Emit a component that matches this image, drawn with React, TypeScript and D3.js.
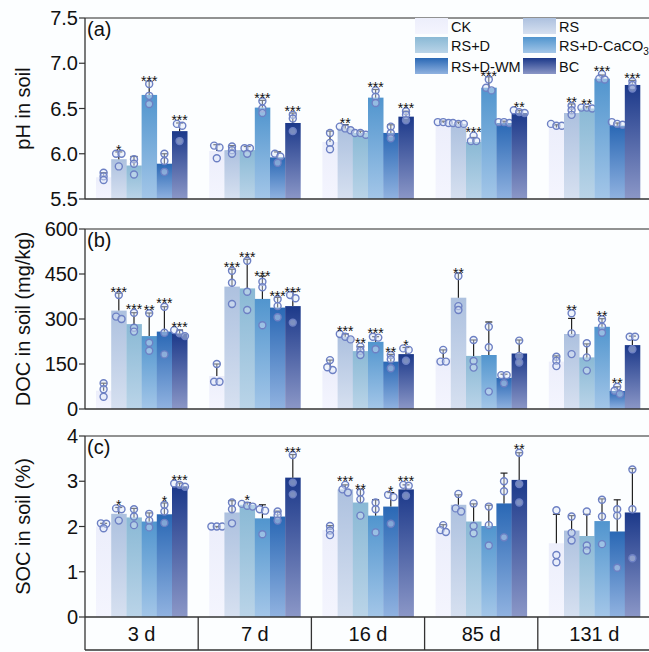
import React from 'react'
import * as d3 from 'd3'

const days = ['3 d', '7 d', '16 d', '85 d', '131 d']
const treatments = ['CK', 'RS', 'RS+D', 'RS+D-CaCO3', 'RS+D-WM', 'BC']

// bar gradient colours, top -> bottom
const colorTop = ['#eceefb', '#adc1df', '#8ab9d5', '#5195ce', '#2a68b5', '#1c398a']
const colorBottom = ['#f4f5fe', '#d6e0f0', '#bad4e8', '#a3c6e8', '#90b2e0', '#8b97c7']

// pH
const phMean = [
  [5.74, 5.94, 5.87, 6.65, 5.89, 6.25],
  [6.03, 6.04, 6.04, 6.51, 5.96, 6.34],
  [6.13, 6.28, 6.23, 6.62, 6.23, 6.41],
  [6.34, 6.33, 6.13, 6.73, 6.34, 6.45],
  [6.29, 6.45, 6.5, 6.83, 6.31, 6.76],
]
const phErr = [
  [0.05, 0.08, 0.1, 0.15, 0.11, 0.09],
  [0.07, 0.05, 0.04, 0.08, 0.06, 0.11],
  [0.12, 0.04, 0.02, 0.09, 0.09, 0.06],
  [0.02, 0.02, 0.05, 0.12, 0.02, 0.03],
  [0.03, 0.1, 0.02, 0.04, 0.03, 0.05],
]
const phPoints = [
  [[5.79, 5.75, 5.71], [6.0, 6.0, 5.86], [5.94, 5.89, 5.77], [6.77, 6.64, 6.55], [6.0, 5.92, 5.8], [6.33, 6.31, 6.14]],
  [[6.09, 6.07, 5.95], [6.08, 6.04, 6.0], [6.06, 6.06, 6.0], [6.58, 6.5, 6.45], [6.0, 5.97, 5.9], [6.43, 6.39, 6.25]],
  [[6.23, 6.12, 6.05], [6.3, 6.28, 6.26], [6.23, 6.21, 6.23], [6.7, 6.63, 6.56], [6.3, 6.23, 6.17], [6.47, 6.43, 6.37]],
  [[6.35, 6.35, 6.34], [6.34, 6.33, 6.33], [6.2, 6.14, 6.14], [6.82, 6.73, 6.7], [6.35, 6.35, 6.34], [6.48, 6.46, 6.45]],
  [[6.33, 6.31, 6.31], [6.53, 6.48, 6.43], [6.51, 6.51, 6.5], [6.88, 6.83, 6.82], [6.35, 6.33, 6.32], [6.8, 6.76, 6.72]],
]
const phStars = [
  ['', '*', '', '***', '', '***'],
  ['', '', '', '***', '', '***'],
  ['', '**', '', '***', '', '***'],
  ['', '', '***', '***', '', '**'],
  ['', '**', '**', '***', '', '***'],
]

// DOC
const docMean = [
  [61, 328, 283, 243, 258, 252],
  [110, 408, 402, 367, 338, 343],
  [128, 241, 193, 224, 158, 183],
  [169, 371, 177, 180, 104, 185],
  [158, 250, 172, 274, 60, 213],
]
const docErr = [
  [25, 58, 38, 77, 83, 11],
  [40, 58, 97, 76, 34, 48],
  [35, 9, 15, 17, 24, 22],
  [28, 81, 53, 110, 12, 45],
  [19, 52, 45, 27, 14, 30],
]
const docPoints = [
  [[86, 66, 41], [380, 308, 300], [321, 271, 258], [319, 221, 194], [341, 254, 182], [263, 252, 243]],
  [[150, 91, 91], [461, 421, 350], [494, 391, 330], [424, 406, 279], [366, 343, 306], [380, 369, 288]],
  [[163, 130, 139], [250, 241, 232], [208, 194, 180], [241, 238, 199], [180, 166, 136], [202, 197, 161]],
  [[197, 158, 158], [443, 343, 330], [230, 160, 138], [274, 206, 58], [113, 113, 86], [228, 177, 155]],
  [[174, 161, 143], [319, 252, 183], [219, 172, 128], [299, 274, 254], [74, 61, 50], [241, 241, 199]],
]
const docStars = [
  ['', '***', '***', '**', '***', '***'],
  ['', '***', '***', '***', '***', '***'],
  ['', '***', '**', '***', '**', '*'],
  ['', '**', '', '', '', ''],
  ['', '**', '', '**', '**', ''],
]

// SOC
const socMean = [
  [2.0, 2.28, 2.2, 2.11, 2.27, 2.89],
  [1.96, 2.31, 2.48, 2.18, 2.22, 3.08],
  [1.92, 2.82, 2.53, 2.24, 2.44, 2.82],
  [1.92, 2.48, 2.11, 2.01, 2.51, 3.03],
  [1.63, 1.91, 1.79, 2.12, 1.89, 2.31],
]
const socErr = [
  [0.07, 0.14, 0.2, 0.19, 0.25, 0.07],
  [0.04, 0.26, 0.05, 0.3, 0.12, 0.51],
  [0.1, 0.1, 0.29, 0.35, 0.31, 0.1],
  [0.12, 0.22, 0.39, 0.46, 0.67, 0.6],
  [0.64, 0.33, 0.48, 0.49, 0.7, 0.97],
]
const socPoints = [
  [[2.07, 2.06, 1.96], [2.4, 2.38, 2.13], [2.38, 2.22, 2.03], [2.28, 2.13, 1.98], [2.48, 2.33, 2.08], [2.95, 2.92, 2.88]],
  [[2.0, 2.0, 2.0], [2.53, 2.38, 2.07], [2.5, 2.46, 2.44], [2.38, 2.35, 1.83], [2.33, 2.25, 2.13], [3.58, 2.97, 2.71]],
  [[2.01, 1.91, 1.81], [2.92, 2.82, 2.75], [2.75, 2.6, 2.24], [2.53, 2.38, 1.87], [2.7, 2.65, 2.06], [2.92, 2.9, 2.68]],
  [[2.03, 1.92, 1.88], [2.72, 2.4, 2.33], [2.51, 2.01, 1.85], [2.44, 2.03, 1.58], [3.0, 2.78, 1.76], [3.63, 2.94, 2.53]],
  [[2.36, 1.37, 1.21], [2.22, 1.86, 1.69], [2.33, 1.58, 1.47], [2.59, 2.22, 1.61], [2.38, 2.24, 1.09], [3.26, 2.38, 1.3]],
]
const socStars = [
  ['', '*', '', '', '*', '***'],
  ['', '', '*', '', '', '***'],
  ['', '***', '**', '', '*', '***'],
  ['', '', '', '', '', '**'],
  ['', '', '', '', '', ''],
]

const phTicks = [5.5, 6.0, 6.5, 7.0, 7.5]
const docTicks = [0, 150, 300, 450, 600]
const socTicks = [0, 1, 2, 3, 4]

const W = 649
const H = 652
const FONT = '"Liberation Sans", Arial, sans-serif'
const left = 85
const right = 651
const xAxisBottom = 650

const x0 = d3.scaleBand<string>().domain(days).range([left, right])
const x1 = d3.scaleBand<string>().domain(treatments)
  .range([11, x0.bandwidth() - 11])

const panels = [
  { key: 'a', label: '(a)', title: 'pH in soil', top: 18, bottom: 199, domain: [5.5, 7.5], ticks: phTicks, fmt: d3.format('.1f'), mean: phMean, err: phErr, pts: phPoints, stars: phStars },
  { key: 'b', label: '(b)', title: 'DOC in soil (mg/kg)', top: 229, bottom: 409, domain: [0, 600], ticks: docTicks, fmt: d3.format('d'), mean: docMean, err: docErr, pts: docPoints, stars: docStars },
  { key: 'c', label: '(c)', title: 'SOC in soil (%)', top: 436, bottom: 617, domain: [0, 4], ticks: socTicks, fmt: d3.format('d'), mean: socMean, err: socErr, pts: socPoints, stars: socStars },
]

const R = 3.5

// spread points sitting at almost the same height sideways
function spread(ys: number[]) {
  const order = ys.map((y, i) => ({ y, i })).sort((a, b) => a.y - b.y)
  const off = new Array(ys.length).fill(0)
  let cluster: { y: number; i: number }[] = []
  const flush = () => {
    const n = cluster.length
    cluster.forEach((c, k) => {
      off[c.i] = n > 1 ? (k - (n - 1) / 2) * 5.4 : 0
    })
    cluster = []
  }
  order.forEach((o) => {
    if (cluster.length && o.y - cluster[cluster.length - 1].y > 3.5) flush()
    cluster.push(o)
  })
  flush()
  return off
}

function Panel({ p }: { p: any }) {
  const y = d3.scaleLinear().domain(p.domain).range([p.bottom, p.top])
  return (
    <g>
      {days.map((day, di) => (
        <g key={day} transform={`translate(${x0(day)},0)`}>
          {treatments.map((t, ti) => {
            const bx = x1(t) as number
            const bw = x1.bandwidth()
            const cx = bx + bw / 2
            const m = p.mean[di][ti]
            const yTop = y(m)
            const yErr = y(m + p.err[di][ti])
            const ptsY = p.pts[di][ti].map((v: number) => y(v))
            const offs = spread(ptsY)
            const highest = Math.min(yErr, d3.min(ptsY) as number - R)
            return (
              <g key={t}>
                <rect x={bx} y={yTop} width={bw + 0.3} height={p.bottom - yTop} fill={`url(#grad${ti})`} />
                <line x1={cx} x2={cx} y1={yTop} y2={yErr} stroke="#222" strokeWidth={1.2} />
                <line x1={cx - 3.5} x2={cx + 3.5} y1={yErr} y2={yErr} stroke="#222" strokeWidth={1.2} />
                {ptsY.map((py: number, k: number) => (
                  <circle key={k} cx={cx + offs[k]} cy={py} r={R} fill="rgba(225,232,248,0.45)" stroke="#6d80c4" strokeWidth={1.4} />
                ))}
                {p.stars[di][ti] && (
                  <text x={cx} y={highest + 5} textAnchor="middle" fontSize={14} fontFamily={FONT} fill="#111">
                    {p.stars[di][ti]}
                  </text>
                )}
              </g>
            )
          })}
        </g>
      ))}
      {/* frame */}
      <line x1={left} x2={W + 2} y1={p.top} y2={p.top} stroke="#6e6e6e" strokeWidth={1.6} />
      <line x1={left} x2={W + 2} y1={p.bottom} y2={p.bottom} stroke="#333" strokeWidth={1.3} />
      <line x1={left} x2={left} y1={p.top} y2={p.bottom} stroke="#333" strokeWidth={1.3} />
      {p.ticks.map((tk: number) => (
        <g key={tk}>
          <line x1={left - 6} x2={left} y1={y(tk)} y2={y(tk)} stroke="#333" strokeWidth={1.2} />
          <text x={left - 7} y={y(tk) + 7} textAnchor="end" fontSize={20} fontFamily={FONT} fill="#111">
            {p.fmt(tk)}
          </text>
        </g>
      ))}
      <text x={87} y={p.top + 18} fontSize={20} fontFamily={FONT} fill="#111">{p.label}</text>
      <text transform={`translate(30,${(p.top + p.bottom) / 2}) rotate(-90)`} textAnchor="middle" fontSize={20} fontFamily={FONT} fill="#111">
        {p.title}
      </text>
    </g>
  )
}

function Legend() {
  const cols = [415, 523]
  const rows = [18, 37, 58]
  return (
    <g>
      {treatments.map((t, i) => {
        const lx = cols[i % 2]
        const ly = rows[Math.floor(i / 2)]
        return (
          <g key={t}>
            <rect x={lx} y={ly} width={33} height={16} fill={`url(#grad${i})`} />
            <text x={lx + 36} y={ly + 14} fontSize={14.5} fontFamily={FONT} fill="#111">
              {t === 'RS+D-CaCO3' ? (
                <>RS+D-CaCO<tspan fontSize={10} dy={4}>3</tspan></>
              ) : t}
            </text>
          </g>
        )
      })}
    </g>
  )
}

export default function App() {
  return (
    <svg width={W} height={H} style={{ position: 'absolute', left: 0, top: 0, background: '#fcfeff' }}>
      <defs>
        {treatments.map((t, i) => (
          <linearGradient key={t} id={`grad${i}`} x1="0" y1="0" x2="0" y2="1">
            <stop offset="0%" stopColor={colorTop[i]} />
            <stop offset="100%" stopColor={colorBottom[i]} />
          </linearGradient>
        ))}
      </defs>
      {panels.map((p) => <Panel key={p.key} p={p} />)}
      <Legend />
      {/* category box */}
      <line x1={left} x2={W + 2} y1={xAxisBottom} y2={xAxisBottom} stroke="#333" strokeWidth={1.3} />
      <line x1={left} x2={left} y1={617} y2={xAxisBottom} stroke="#333" strokeWidth={1.3} />
      {days.map((d) => (
        <g key={d}>
          <line x1={(x0(d) as number) + x0.bandwidth()} x2={(x0(d) as number) + x0.bandwidth()} y1={617} y2={xAxisBottom} stroke="#333" strokeWidth={1.3} />
          <text x={(x0(d) as number) + x0.bandwidth() / 2} y={641} textAnchor="middle" fontSize={20} fontFamily={FONT} fill="#111">{d}</text>
        </g>
      ))}
    </svg>
  )
}
